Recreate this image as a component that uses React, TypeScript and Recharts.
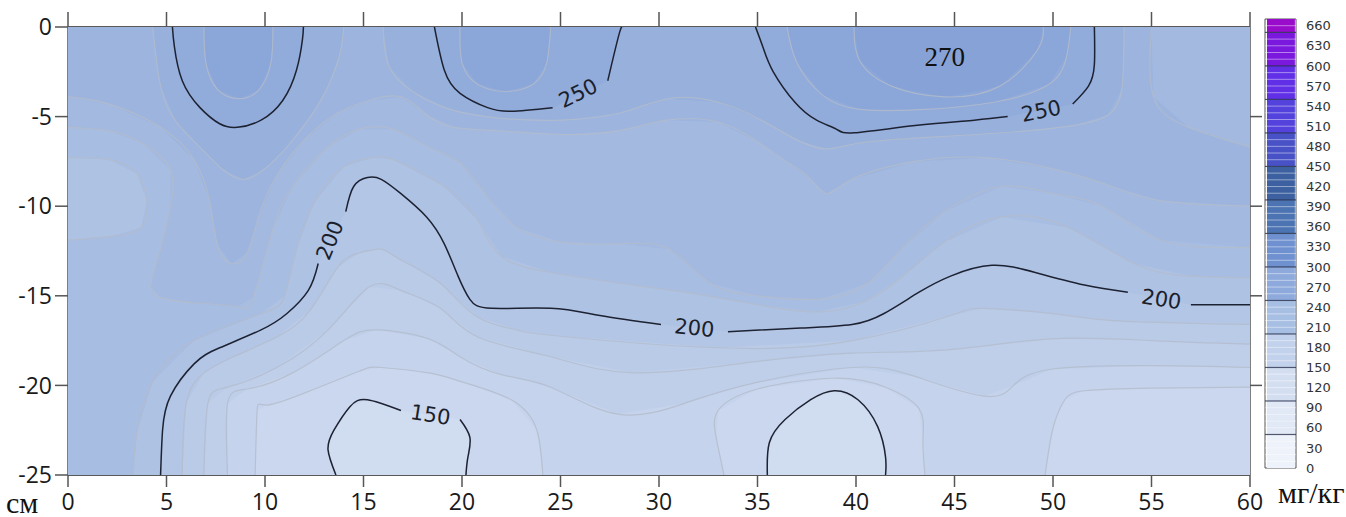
import React from 'react'
import {
  ComposedChart,
  Scatter,
  XAxis,
  YAxis,
  BarChart,
  Bar,
  ReferenceLine,
  ReferenceArea,
} from 'recharts'

type Pt = [number, number]

// axis ticks
const xTicks = [0, 5, 10, 15, 20, 25, 30, 35, 40, 45, 50, 55, 60]
const yTicks = [-25, -20, -15, -10, -5, 0]
const rightTicks = [-20, -15, -10, -5]

// whole plot (distance, depth)
const frame: Pt[] = [[0, 0], [60, 0], [60, -25], [0, -25]]

// 150 contour (black) - two pockets at the bottom
const c150La: Pt[] = [[13.6, -25], [13.2, -23.6], [13.5, -22.5], [14.3, -21.2], [15.2, -20.8], [16.9, -21.4]]
const c150Lb: Pt[] = [[19.9, -21.9], [20.4, -22.9], [20.3, -24], [20.2, -25]]
const c150R: Pt[] = [[35.5, -25], [35.6, -23.2], [36.4, -21.9], [37.7, -20.8], [38.9, -20.3], [40.1, -20.8], [41.1, -22.3], [41.5, -24], [41.5, -25]]

// gray contours below 200
const c160L: Pt[] = [[9.5, -25], [9.6, -21.4], [10.1, -21.1], [12.3, -20.3], [14.8, -19.2], [15.9, -19.0], [18.3, -19.3], [20, -19.8], [22.5, -20.8], [23.8, -22.5], [24.1, -25]]
const c160M: Pt[] = [[33.3, -25], [32.9, -22.9], [33, -21.4], [35, -20.2], [38.9, -19.6], [41.5, -20.1], [43.2, -21.3], [43.4, -23], [43.5, -25]]
const c160R: Pt[] = [[49.6, -25], [49.8, -23.5], [50.1, -22], [50.6, -20.8], [51.6, -20.3], [55, -20.15], [60, -20.1]]
const c170: Pt[] = [[8.1, -25], [8.1, -21], [9.1, -20.2], [11.4, -19.3], [14, -17.5], [15.7, -16.9], [18.3, -17.4], [19.9, -18.4], [22, -19.4], [24.5, -20.1], [27.9, -21.6], [31.3, -21.0], [34.7, -19.9], [39.8, -19.0], [43, -19.5], [46.5, -20.6], [48, -20.0], [49.9, -19.1], [55, -18.9], [60, -19.0]]
const c180: Pt[] = [[6.9, -25], [7.1, -21], [8.1, -20.1], [10.6, -19.0], [13.2, -16.9], [15.3, -14.5], [16.9, -14.7], [18.9, -15.7], [20.8, -17.3], [24.5, -18.4], [28.7, -19.3], [34.7, -18.7], [39.8, -18.2], [44.8, -18.0], [49.9, -17.4], [55, -17.5], [60, -17.7]]
const c190: Pt[] = [[5.8, -25], [6.0, -21], [6.9, -19.3], [8.4, -18.4], [10.6, -17.3], [12.3, -15.8], [13.7, -13.4], [14.8, -12.6], [15.9, -12.4], [16.9, -13], [18.9, -14.3], [20.8, -16.2], [22.8, -16.9], [24.5, -17.2], [33, -17.9], [39.8, -17.5], [44.8, -16.1], [46.5, -15.7], [50, -16.0], [53.3, -16.4], [60, -16.6]]

// 200 contour (black), split where the labels sit
const c200a: Pt[] = [[4.7, -25], [4.8, -22.5], [5.2, -20.6], [6.4, -18.8], [7.7, -17.9], [9.8, -16.9], [11.1, -16.0], [12.2, -14.7], [12.7, -13.2]]
const c200b: Pt[] = [[14.1, -10.3], [14.5, -8.9], [15.2, -8.4], [15.9, -8.5], [16.9, -9.3], [18.2, -10.6], [19.1, -12.1], [19.8, -13.9], [20.4, -15.2], [21.5, -15.7], [24.5, -15.7], [27, -16.1], [30.1, -16.6]]
const c200c: Pt[] = [[33.5, -17.0], [37.2, -16.8], [39.8, -16.6], [41.4, -16.0], [43.2, -14.8], [44.8, -13.9], [46.9, -13.3], [49.1, -13.7], [51.6, -14.4], [53.8, -14.8]]
const c200d: Pt[] = [[57, -15.5], [60, -15.5]]

// gray contours above 200
const c210: Pt[] = [[3.3, -25], [3.5, -22.6], [4.3, -19.8], [6.4, -17.5], [9.8, -16.0], [11.0, -15.0], [11.6, -12.4], [12.5, -9.8], [14, -7.8], [15.4, -7.3], [16.5, -7.4], [19.1, -8.9], [20.8, -10.8], [22, -12.8], [24.5, -13.7], [28, -14.3], [31.3, -14.8], [35, -15.5], [38, -15.9], [40.5, -15.3], [42.5, -13.8], [44.5, -12.0], [47.4, -10.6], [50.8, -11.2], [54.1, -13.2], [57, -13.9], [60, -14.0]]
const c210hole: Pt[] = [[0, -7.3], [2.1, -7.4], [3.5, -8.2], [4.0, -9.7], [3.7, -11.2], [2.1, -11.7], [0, -11.9]]
const c220: Pt[] = [[0, -5.6], [2.1, -5.8], [3.8, -6.5], [5.2, -8.0], [5.2, -10.0], [4.8, -12], [4.4, -13.5], [4.2, -14.5], [4.7, -15.1], [6.5, -15.4], [8.6, -15.6], [9.4, -15.1], [10.4, -11.3], [11.4, -8.9], [13.2, -6.7], [14.8, -5.7], [16.5, -5.7], [18.3, -6.7], [19.9, -7.6], [21.3, -9.5], [22.8, -11.2], [25, -12.0], [28, -12.1], [30.5, -12.4], [32.6, -14.3], [35, -15.0], [38.1, -15.2], [40.6, -14.3], [42.3, -12.4], [44.5, -10.3], [47.4, -8.9], [50, -9.3], [52.5, -10.0], [55.5, -11.9], [60, -12.3]]
const c230: Pt[] = [[0, -3.9], [2.1, -4.3], [4.7, -5.6], [6.4, -7.4], [7.2, -9.8], [7.6, -12.2], [8.3, -13.2], [9.1, -12.6], [9.7, -10.5], [10.6, -8.3], [12, -6.3], [13.7, -4.8], [15.3, -4.1], [16.9, -3.9], [18.2, -4.9], [19.6, -5.6], [22, -5.8], [25, -6.0], [27.9, -5.8], [30.4, -5.2], [33, -5.3], [35, -6.4], [36.6, -7.6], [37.6, -8.4], [38.5, -9.3], [39.8, -8.5], [43, -7.5], [46.7, -7.3], [50.3, -8.0], [53, -8.9], [55.5, -9.7], [60, -10.0]]
const c230corner: Pt[] = [[55, 0], [55.1, -3.9], [56.9, -5.6], [60, -6.7]]
const c240A: Pt[] = [[4.3, 0], [4.7, -3.3], [5.5, -5.3], [6.7, -6.7], [7.8, -7.9], [8.9, -8.5], [10, -7.9], [11.1, -6.7], [12.3, -5], [13.2, -3.3], [13.8, -1.5], [14, 0]]
const c240B: Pt[] = [[16.0, 0], [16.3, -2.2], [17.5, -3.6], [19.4, -4.6], [22, -5.1], [25, -5.2], [28, -4.8], [30.5, -4.0], [33, -4.2], [35.2, -5.2], [37, -6.3], [38.5, -6.8], [40, -6.5], [43, -6.2], [47.4, -5.9], [51, -5.5], [52.8, -4.9], [53.5, -3.4], [53.6, 0]]

// 250 contours (black)
const c250A: Pt[] = [[5.3, 0], [5.4, -1.1], [5.8, -3.0], [6.7, -4.5], [7.7, -5.4], [8.6, -5.6], [9.8, -5.2], [10.9, -4.1], [11.6, -2.4], [11.9, -0.7], [11.95, 0]]
const c250Ba: Pt[] = [[18.6, 0], [19.1, -2.4], [19.9, -3.7], [21.3, -4.5], [22.5, -4.7], [24.6, -4.5]]
const c250Bb: Pt[] = [[27.4, -3.0], [28, -0.3], [28.2, 0]]
const c250Ca: Pt[] = [[34.9, 0], [35.3, -1.2], [35.8, -2.5], [36.9, -4.2], [38.0, -5.2], [39.0, -5.7], [39.9, -5.9], [43.0, -5.5], [46.0, -5.2], [47.7, -5.0]]
const c250Cb: Pt[] = [[51.0, -4.3], [51.8, -3.3], [52.1, -2.1], [52.1, 0]]

// inner tops
const c260A: Pt[] = [[6.9, 0], [7.0, -2], [7.6, -3.5], [8.7, -4.0], [9.7, -3.5], [10.3, -2], [10.4, 0]]
const c260B: Pt[] = [[19.9, 0], [20.0, -2], [20.8, -3.2], [22.2, -3.6], [23.6, -3.2], [24.3, -2], [24.5, 0]]
const c260C: Pt[] = [[36.5, 0], [37.0, -2], [38.3, -3.8], [40.2, -4.6], [43.5, -4.6], [47, -4.2], [49.8, -3.2], [50.7, -1.6], [50.9, 0]]
const c270C: Pt[] = [[39.9, 0], [40.2, -1.9], [41.8, -3.3], [44.5, -3.9], [47.3, -3.3], [49.2, -1.3], [49.5, 0]]

const contourLabels = [
  { x: 13.3, y: -11.9, text: '200', angle: -68 },
  { x: 31.8, y: -16.8, text: '200', angle: 6 },
  { x: 55.5, y: -15.2, text: '200', angle: 9 },
  { x: 25.9, y: -3.7, text: '250', angle: -26 },
  { x: 49.4, y: -4.7, text: '250', angle: -11 },
  { x: 18.4, y: -21.65, text: '150', angle: 9 },
]
const peakLabels = [{ x: 44.5, y: -1.7, text: '270' }]

// colour scale on the right
const colorbarTicks = [0, 30, 60, 90, 120, 150, 180, 210, 240, 270, 300, 330, 360, 390, 420, 450, 480, 510, 540, 570, 600, 630, 660]
const colorbarBands = [
  { from: 0, to: 50, color: '#eef2fa' },
  { from: 50, to: 100, color: '#e1e8f6' },
  { from: 100, to: 150, color: '#d4def1' },
  { from: 150, to: 200, color: '#c2d1ec' },
  { from: 200, to: 250, color: '#a8bfe4' },
  { from: 250, to: 300, color: '#8eaadc' },
  { from: 300, to: 350, color: '#6f91d0' },
  { from: 350, to: 400, color: '#4d74b2' },
  { from: 400, to: 450, color: '#3d61a0' },
  { from: 450, to: 500, color: '#4852c6' },
  { from: 500, to: 550, color: '#5442dc' },
  { from: 550, to: 600, color: '#602fe6' },
  { from: 600, to: 650, color: '#7a18de' },
  { from: 650, to: 670, color: '#9a0ccc' },
]

const rev = (a: Pt[]) => [...a].reverse()
const toData = (a: Pt[]) => a.map(([x, y]) => ({ x, y }))

const c150L = [...c150La, ...c150Lb]
const c200 = [...c200a, ...c200b, ...c200c, ...c200d]
const c250B = [...c250Ba, ...c250Bb]
const c250C = [...c250Ca, ...c250Cb]

// filled areas where the value is above each level, painted low to high
const regions: { color: string; poly: Pt[] }[] = [
  { color: '#d0dcf0', poly: frame },
  { color: '#cad7ee', poly: [[0, 0], [60, 0], [60, -25], ...rev(c150R), ...rev(c150L), [0, -25]] },
  { color: '#c5d3ec', poly: [[0, 0], [60, 0], ...rev(c160R), ...rev(c160M), ...rev(c160L), [0, -25]] },
  { color: '#bfcfea', poly: [[0, 0], [60, 0], ...rev(c170), [0, -25]] },
  { color: '#bacbe8', poly: [[0, 0], [60, 0], ...rev(c180), [0, -25]] },
  { color: '#b4c6e6', poly: [[0, 0], [60, 0], ...rev(c190), [0, -25]] },
  { color: '#aec2e4', poly: [[0, 0], [60, 0], ...rev(c200), [0, -25]] },
  { color: '#a8bde2', poly: [[0, 0], [60, 0], ...rev(c210), [0, -25], ...rev(c210hole)] },
  { color: '#a3b9e0', poly: [[0, 0], [60, 0], ...rev(c220)] },
  { color: '#9db5de', poly: [[0, 0], ...c230corner, ...rev(c230)] },
  { color: '#97b0dc', poly: c240A },
  { color: '#97b0dc', poly: c240B },
  { color: '#91abda', poly: c250A },
  { color: '#91abda', poly: c250B },
  { color: '#91abda', poly: c250C },
  { color: '#8ba6d8', poly: c260A },
  { color: '#8ba6d8', poly: c260B },
  { color: '#8ba6d8', poly: c260C },
  { color: '#86a2d6', poly: c270C },
]

const grayLines = [c160L, c160M, c160R, c170, c180, c190, c210, c210hole, c220, c230, c230corner, c240A, c240B, c260A, c260B, c260C, c270C]
const blackLines = [c150La, c150Lb, c150R, c200a, c200b, c200c, c200d, c250A, c250Ba, c250Bb, c250Ca, c250Cb]

const colorbarRow: Record<string, number | string> = { name: 'scale' }
colorbarBands.forEach((b, i) => {
  colorbarRow[`b${i}`] = b.to - b.from
})
const colorbarMajor = colorbarBands.map((b) => b.from).filter((v) => v > 0)
const colorbarMinor: number[] = []
for (let v = 10; v < 670; v += 10) if (v % 50 !== 0) colorbarMinor.push(v)

const noDot = () => <g />

const fillShape = (color: string) => (props: any) => {
  const pts = props.points || []
  if (!pts.length) return <g />
  const d = 'M' + pts.map((p: any) => `${p.x},${p.y}`).join('L') + 'Z'
  return <path d={d} fill={color} stroke="none" />
}

const labelShape = (props: any) => {
  const { cx, cy, payload } = props
  return (
    <text
      x={cx}
      y={cy}
      transform={`rotate(${payload.angle} ${cx} ${cy})`}
      textAnchor="middle"
      dominantBaseline="central"
      fontFamily="DejaVu Sans"
      fontSize={21}
      fill="#1b1f2b"
    >
      {payload.text}
    </text>
  )
}

const peakShape = (props: any) => (
  <text
    x={props.cx}
    y={props.cy}
    textAnchor="middle"
    dominantBaseline="central"
    fontFamily="Liberation Serif"
    fontSize={27}
    fill="#111"
  >
    {props.payload.text}
  </text>
)

const axisTick = { fill: '#1a1a1a', fontSize: 23, fontFamily: 'Open Sans' }

export default function App() {
  return (
    <div style={{ position: 'absolute', left: 0, top: 0, width: 1346, height: 517, background: '#fff' }}>
      <ComposedChart width={1346} height={517} margin={{ top: 12, right: 84, bottom: 0, left: 0 }}>
        <XAxis
          xAxisId="b"
          dataKey="x"
          type="number"
          domain={[0, 60]}
          ticks={xTicks}
          interval={0}
          allowDataOverflow
          height={42}
          tickSize={12}
          tickMargin={7}
          axisLine={{ stroke: '#222', strokeWidth: 1.5 }}
          tickLine={{ stroke: '#555', strokeWidth: 1.5 }}
          tick={axisTick}
        />
        <XAxis
          xAxisId="t"
          dataKey="x"
          type="number"
          orientation="top"
          domain={[0, 60]}
          ticks={xTicks}
          interval={0}
          allowDataOverflow
          height={15}
          tickSize={15}
          tickFormatter={() => ''}
          axisLine={{ stroke: '#222', strokeWidth: 1.5 }}
          tickLine={{ stroke: '#555', strokeWidth: 1.5 }}
        />
        <YAxis
          yAxisId="l"
          dataKey="y"
          type="number"
          domain={[-25, 0]}
          ticks={yTicks}
          interval={0}
          allowDataOverflow
          width={68}
          tickSize={13}
          tickMargin={3}
          axisLine={{ stroke: '#555', strokeWidth: 1.5 }}
          tickLine={{ stroke: '#555', strokeWidth: 1.5 }}
          tick={axisTick}
        />
        <YAxis
          yAxisId="r"
          dataKey="y"
          type="number"
          orientation="right"
          domain={[-25, 0]}
          ticks={rightTicks}
          interval={0}
          allowDataOverflow
          width={12}
          tickSize={12}
          tickFormatter={() => ''}
          axisLine={{ stroke: '#555', strokeWidth: 1.5 }}
          tickLine={{ stroke: '#555', strokeWidth: 1.5 }}
        />

        {regions.map((r, i) => (
          <Scatter
            key={`r${i}`}
            data={toData(r.poly)}
            xAxisId="b"
            yAxisId="l"
            line={fillShape(r.color)}
            shape={noDot}
            isAnimationActive={false}
          />
        ))}
        {grayLines.map((c, i) => (
          <Scatter
            key={`g${i}`}
            data={toData(c)}
            xAxisId="b"
            yAxisId="l"
            fill="none"
            line={{ stroke: '#b3bccb', strokeWidth: 1.2, strokeOpacity: 0.8 }}
            lineJointType="natural"
            shape={noDot}
            isAnimationActive={false}
          />
        ))}
        {blackLines.map((c, i) => (
          <Scatter
            key={`k${i}`}
            data={toData(c)}
            xAxisId="b"
            yAxisId="l"
            fill="none"
            line={{ stroke: '#1d2232', strokeWidth: 1.5 }}
            lineJointType="natural"
            shape={noDot}
            isAnimationActive={false}
          />
        ))}
        <Scatter data={contourLabels} xAxisId="b" yAxisId="l" shape={labelShape} isAnimationActive={false} />
        <Scatter data={peakLabels} xAxisId="b" yAxisId="l" shape={peakShape} isAnimationActive={false} />
      </ComposedChart>

      <div style={{ position: 'absolute', left: 1255, top: 0 }}>
        <BarChart
          width={91}
          height={517}
          data={[colorbarRow]}
          margin={{ top: 19, right: 0, bottom: 49, left: 10 }}
          barCategoryGap={0}
        >
          <XAxis hide dataKey="name" type="category" />
          <YAxis
            orientation="right"
            type="number"
            domain={[0, 670]}
            ticks={colorbarTicks}
            interval={0}
            allowDataOverflow
            width={50}
            axisLine={false}
            tickLine={false}
            tickMargin={4}
            tick={{ fill: '#333', fontSize: 13, fontFamily: 'DejaVu Sans' }}
          />
          {colorbarBands.map((b, i) => (
            <Bar
              key={`cb${i}`}
              dataKey={`b${i}`}
              stackId="cb"
              fill={b.color}
              barSize={31}
              isAnimationActive={false}
            />
          ))}
          {colorbarMinor.map((v) => (
            <ReferenceLine key={`mi${v}`} y={v} stroke="#ffffff" strokeOpacity={0.45} strokeWidth={1} />
          ))}
          {colorbarMajor.map((v) => (
            <ReferenceLine key={`ma${v}`} y={v} stroke="#28324d" strokeOpacity={0.8} strokeWidth={1.2} />
          ))}
          <ReferenceArea y1={0} y2={670} fill="none" stroke="#555" strokeWidth={1} />
        </BarChart>
      </div>

      <div
        style={{
          position: 'absolute',
          left: 6,
          top: 488,
          fontFamily: 'Liberation Serif',
          fontSize: 30,
          lineHeight: 1,
          color: '#111',
        }}
      >
        см
      </div>
      <div
        style={{
          position: 'absolute',
          left: 1278,
          top: 478,
          fontFamily: 'Liberation Serif',
          fontSize: 30,
          lineHeight: 1,
          color: '#111',
        }}
      >
        мг/кг
      </div>
    </div>
  )
}
